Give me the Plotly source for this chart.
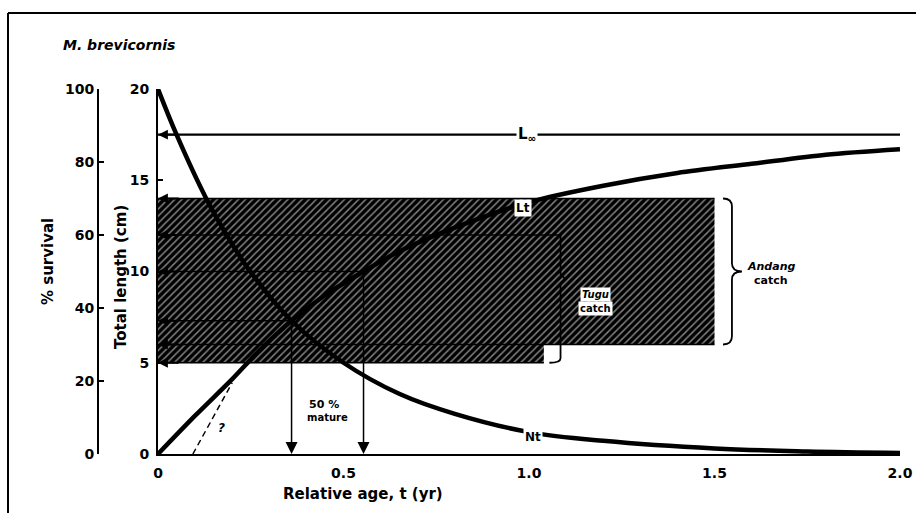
import plotly.graph_objects as go

# ---------------- data ----------------
# growth curve Lt (cm) vs relative age t (yr)
t_lt = [0.0, 0.1, 0.2, 0.27, 0.36, 0.45, 0.554, 0.65, 0.8, 1.0, 1.2, 1.4, 1.6, 1.8, 2.0]
lt_cm = [0.0, 2.1, 4.1, 5.6, 7.3, 8.7, 10.0, 11.1, 12.4, 13.8, 14.7, 15.4, 15.9, 16.4, 16.7]

# survival curve Nt (% survival) vs relative age t (yr)
t_nt = [0.0, 0.05, 0.13, 0.185, 0.245, 0.36, 0.5, 0.65, 0.8, 1.0, 1.2, 1.5, 1.75, 2.0]
nt_pct = [100, 87.5, 70, 60, 50.5, 36.5, 25, 16.5, 11, 6, 3.6, 1.5, 0.7, 0.3]

# uncertain early-growth alternative (dashed, "?")
t_alt = [0.094, 0.13, 0.165, 0.2]
lt_alt = [0.0, 1.3, 2.6, 3.9]

L_inf = 17.5                      # asymptotic length (cm)
t_max = 2.0

andang_len = [6, 14]              # Andang catch length range (cm)
andang_t = 1.5                    # extent of Andang catch in age
tugu_len = [5, 12]                # Tugu catch length range (cm)
tugu_t = 1.04                     # extent of Tugu hatch in age
tugu_bracket_t = 1.085

mature_t = [0.36, 0.554]          # ages read down from the curves
mature_len = [7.3, 10.0]          # lengths at those ages (cm)

ref_levels = [L_inf, 14, 12, 10, 7.3, 6, 5]   # arrows on length axis

x_ticks = [0, 0.5, 1.0, 1.5, 2.0]
x_ticktext = ["0", "0.5", "1.0", "1.5", "2.0"]
len_ticks = [0, 5, 10, 15, 20]
surv_ticks = [0, 20, 40, 60, 80, 100]

# ---------------- figure ----------------
W, H = 916, 513
FONT = "DejaVu Sans"


def px(xp):   # window x pixel -> paper fraction
    return xp / W


def py(yp):   # window y pixel -> paper fraction
    return 1 - yp / H


fig = go.Figure()

# hatched catch region (union of Andang and the lower Tugu strip)
hx = [0, tugu_t, tugu_t, andang_t, andang_t, 0, 0]
hy = [tugu_len[0], tugu_len[0], andang_len[0], andang_len[0], andang_len[1], andang_len[1], tugu_len[0]]
fig.add_trace(go.Scatter(
    x=hx, y=hy, mode="lines", fill="toself", line=dict(width=0, color="#000"),
    fillcolor="#000",
    fillpattern=dict(shape="/", bgcolor="#000", fgcolor="white", size=5, solidity=0.3),
    hoverinfo="skip", showlegend=False))

# horizontal reference lines inside the catch area
hlines = [
    (andang_len[1], andang_t),
    (tugu_len[1], tugu_bracket_t),
    (mature_len[1], mature_t[1]),
    (mature_len[0], mature_t[0]),
    (andang_len[0], andang_t),
    (tugu_len[0], tugu_t),
]
for yv, xe in hlines:
    fig.add_trace(go.Scatter(x=[0, xe], y=[yv, yv], mode="lines",
                             line=dict(color="black", width=1.6),
                             hoverinfo="skip", showlegend=False, cliponaxis=False))

# L infinity line
fig.add_trace(go.Scatter(x=[0, t_max], y=[L_inf, L_inf], mode="lines",
                         line=dict(color="black", width=2.2),
                         hoverinfo="skip", showlegend=False, cliponaxis=False))

# dashed alternative growth
fig.add_trace(go.Scatter(x=t_alt, y=lt_alt, mode="lines",
                         line=dict(color="black", width=1.5, dash="6px,4px"),
                         hoverinfo="skip", showlegend=False, cliponaxis=False))

# growth curve
fig.add_trace(go.Scatter(x=t_lt, y=lt_cm, mode="lines",
                         line=dict(color="black", width=4.5, shape="spline", smoothing=0.8),
                         hoverinfo="skip", showlegend=False, cliponaxis=False))

# survival curve (on survival axis)
fig.add_trace(go.Scatter(x=t_nt, y=nt_pct, mode="lines", yaxis="y2",
                         line=dict(color="black", width=4.5, shape="spline", smoothing=1.0),
                         hoverinfo="skip", showlegend=False, cliponaxis=False))

shapes = []
# Tugu bracket
tb = tugu_bracket_t
tmid = (tugu_len[0] + tugu_len[1]) / 2 + 1.1
shapes.append(dict(type="path", xref="x", yref="y",
                   path=f"M {tb},{tugu_len[1]} L {tb},{tmid+0.25} L {tb+0.012},{tmid} L {tb},{tmid-0.25} "
                        f"L {tb},{tugu_len[0]+0.25} Q {tb},{tugu_len[0]} {tb-0.03},{tugu_len[0]}",
                   line=dict(color="black", width=1.8)))
# Andang brace
x0, xs, xt = 1.523, 1.547, 1.574
a0, a1 = andang_len
am = (a0 + a1) / 2
shapes.append(dict(type="path", xref="x", yref="y",
                   path=f"M {x0},{a1} Q {xs},{a1} {xs},{a1-0.45} L {xs},{am+0.45} Q {xs},{am} {xt},{am} "
                        f"Q {xs},{am} {xs},{am-0.45} L {xs},{a0+0.45} Q {xs},{a0} {x0},{a0}",
                   line=dict(color="black", width=1.8)))
# partial outer frame (top and left)
shapes.append(dict(type="line", xref="paper", yref="paper",
                   x0=px(8), x1=1, y0=py(13), y1=py(13), line=dict(color="black", width=2)))
shapes.append(dict(type="line", xref="paper", yref="paper",
                   x0=px(8), x1=px(8), y0=py(13), y1=0, line=dict(color="black", width=2)))

annotations = []
# arrows pointing to the length axis
for yv in ref_levels:
    annotations.append(dict(x=0, y=yv, ax=0.06, ay=yv, xref="x", yref="y", axref="x", ayref="y",
                            text="", showarrow=True, arrowhead=2, arrowsize=1.1, arrowwidth=1.8,
                            arrowcolor="black", standoff=0))
# vertical arrows down to the age axis
for tv, lv in zip(mature_t, mature_len):
    annotations.append(dict(x=tv, y=0, ax=tv, ay=lv, xref="x", yref="y", axref="x", ayref="y",
                            text="", showarrow=True, arrowhead=2, arrowsize=1.6, arrowwidth=1.5,
                            arrowcolor="black", standoff=0))


def label(x, y, text, size=13, italic=False, bg=None, xref="x", yref="y", angle=0):
    annotations.append(dict(x=x, y=y, xref=xref, yref=yref, text=text, showarrow=False,
                            textangle=angle, xanchor="center", yanchor="middle",
                            font=dict(family=FONT, size=size, color="black", weight="bold",
                                      style="italic" if italic else "normal"),
                            bgcolor=bg, borderpad=1))


label(0.995, L_inf, "L<sub>∞</sub>", size=15, bg="white")
label(0.985, 13.5, "Lt", size=12, bg="white")
annotations.append(dict(x=1.01, y=4.7, xref="x", yref="y2", text="Nt", showarrow=False,
                        xanchor="center", yanchor="middle",
                        font=dict(family=FONT, size=12, color="black", weight="bold"),
                        bgcolor="white", borderpad=1))
label(0.447, 2.7, "50 %", size=11)
label(0.457, 2.0, "mature", size=10)
label(0.17, 1.4, "?", size=12, italic=True)
label(1.178, 8.75, "Tugu", size=10, italic=True, bg="white")
label(1.178, 8.0, "catch", size=10, bg="white")
label(1.652, 10.25, "Andang", size=11, italic=True)
label(1.652, 9.5, "catch", size=11)

# titles
label(px(119), py(45), "M. brevicornis", size=14, italic=True, xref="paper", yref="paper")
label(px(48), py(262), "% survival", size=15, xref="paper", yref="paper", angle=-90)
label(px(121), py(277), "Total length (cm)", size=15, xref="paper", yref="paper", angle=-90)
label(px(363), py(494), "Relative age, t (yr)", size=15, xref="paper", yref="paper")

tickfont = dict(family=FONT, size=14, color="black", weight="bold")
fig.update_layout(
    width=W, height=H, margin=dict(l=0, r=0, t=0, b=0, autoexpand=False),
    paper_bgcolor="white", plot_bgcolor="white", showlegend=False,
    xaxis=dict(domain=[px(158), px(900)], range=[0, t_max], showgrid=False, zeroline=False,
               showline=True, linecolor="black", linewidth=2, ticks="", automargin=False,
               tickvals=x_ticks, ticktext=x_ticktext, tickfont=tickfont, ticklabelstandoff=5),
    yaxis=dict(domain=[py(454), py(89)], range=[0, 20], showgrid=False, zeroline=False,
               showline=True, linecolor="black", linewidth=2, ticks="inside", ticklen=5,
               tickwidth=2, tickcolor="black", tickvals=len_ticks, tickfont=tickfont,
               ticklabelstandoff=4, automargin=False),
    yaxis2=dict(overlaying="y", anchor="free", position=px(98), side="left", range=[0, 100],
                showgrid=False, zeroline=False, showline=True, linecolor="black", linewidth=2,
                ticks="inside", ticklen=5, tickwidth=2, tickcolor="black",
                tickvals=surv_ticks, tickfont=tickfont, automargin=False),
    shapes=shapes, annotations=annotations,
)

fig.write_html("out.html")
